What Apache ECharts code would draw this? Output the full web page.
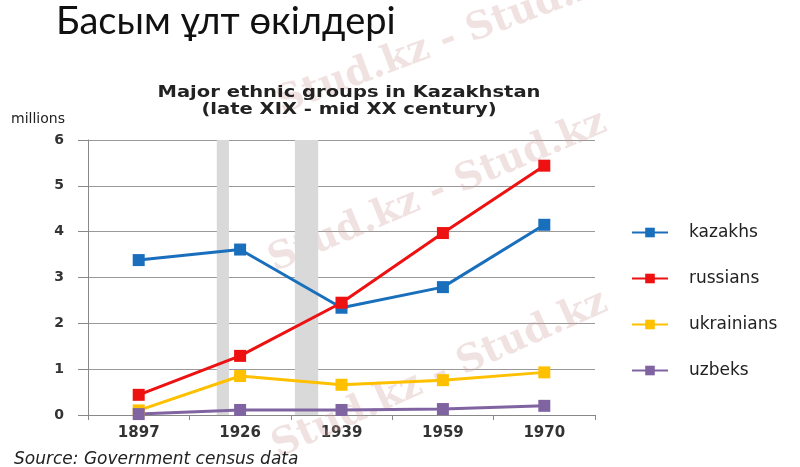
<!DOCTYPE html>
<html>
<head>
<meta charset="utf-8">
<script src="https://cdn.jsdelivr.net/npm/echarts@6/dist/echarts.min.js"></script>
<style>
  html, body { margin: 0; padding: 0; background: #fff; }
  #chart { width: 800px; height: 467px; }
</style>
</head>
<body>
<div id="chart"></div>
<script>
const years = ['1897', '1926', '1939', '1959', '1970']
const kazakhs = [3.38, 3.61, 2.34, 2.79, 4.15]
const russians = [0.44, 1.29, 2.45, 3.97, 5.44]
const ukrainians = [0.1, 0.85, 0.66, 0.76, 0.93]
const uzbeks = [0.02, 0.11, 0.11, 0.13, 0.2]
// grey bands, in category units (0..5 across the plot)
const bands = [[1.27, 1.39], [2.04, 2.27]]

const chart = echarts.init(document.getElementById('chart'))

const mk = (name, data, color) => ({
  name: name,
  type: 'line',
  data: data,
  symbol: 'rect',
  symbolSize: 12,
  itemStyle: {color: color},
  lineStyle: {color: color, width: 3},
  z: 3
})

// watermark text
const wm = (x, y, rot) => ({
  type: 'text', x: x, y: y, rotation: rot, z: 1,
  style: {
    text: 'Stud.kz - Stud.kz', font: 'bold 38px "DejaVu Serif"',
    verticalAlign: 'bottom', fill: 'rgba(210,160,160,0.3)'
  }
})

chart.setOption({
  animation: false,
  title: [
    {
      text: 'Басым ұлт өкілдері',
      left: 51, top: -2,
      textStyle: {fontFamily: 'Lato', fontWeight: 'normal', fontSize: 38, color: '#111'}
    },
    {
      text: 'millions',
      left: 6, top: 107,
      textStyle: {fontFamily: 'DejaVu Sans', fontWeight: 'normal', fontSize: 14, color: '#222'}
    },
    {
      text: 'Source: Government census data',
      left: 9, top: 446,
      textStyle: {fontFamily: 'DejaVu Sans', fontStyle: 'italic', fontWeight: 'normal', fontSize: 17, color: '#222'}
    }
  ],
  grid: {left: 88, right: 205, top: 140, bottom: 52},
  legend: {
    orient: 'vertical',
    left: 626, top: 219,
    itemWidth: 36, itemHeight: 12, itemGap: 29,
    textStyle: {fontFamily: 'DejaVu Sans', fontSize: 17, color: '#222', padding: [0, 0, 0, 16]},
    data: ['kazakhs', 'russians', 'ukrainians', 'uzbeks']
  },
  xAxis: [
    {
      type: 'category',
      data: years,
      boundaryGap: true,
      axisLine: {lineStyle: {color: '#888', width: 1}},
      axisTick: {show: true, length: 5, lineStyle: {color: '#888'}},
      axisLabel: {fontFamily: 'DejaVu Sans', fontWeight: 'bold', fontSize: 15, color: '#333', margin: 11}
    },
    {
      type: 'value', min: 0, max: 5, show: false
    }
  ],
  yAxis: {
    type: 'value',
    min: 0, max: 6, interval: 1,
    axisLine: {show: true, lineStyle: {color: '#888'}},
    axisTick: {show: true, length: 10, lineStyle: {color: '#888'}},
    splitLine: {lineStyle: {color: '#999', width: 1}},
    axisLabel: {fontFamily: 'DejaVu Sans', fontWeight: 'bold', fontSize: 14, color: '#333', margin: 24}
  },
  series: [
    {
      type: 'line', xAxisIndex: 1, data: [], silent: true,
      markArea: {
        silent: true,
        itemStyle: {color: '#d9d9d9'},
        data: bands.map(b => [{xAxis: b[0], yAxis: 0}, {xAxis: b[1], yAxis: 6}])
      },
      z: 1
    },
    mk('kazakhs', kazakhs, '#1a6fbd'),
    mk('russians', russians, '#ee1111'),
    mk('ukrainians', ukrainians, '#ffc000'),
    mk('uzbeks', uzbeks, '#8064a2')
  ],
  graphic: [
    wm(285, 122, 0.36),
    wm(278, 280, 0.4),
    wm(282, 466, 0.42),
    {
      // chart title, stretched wide like the source image
      type: 'text', x: 349, y: 84, scaleX: 1.22, z: 10,
      style: {
        text: 'Major ethnic groups in Kazakhstan\n(late XIX - mid XX century)',
        font: 'bold 16px "DejaVu Sans"', lineHeight: 17,
        align: 'center', fill: '#222'
      }
    }
  ]
})
</script>
</body>
</html>
